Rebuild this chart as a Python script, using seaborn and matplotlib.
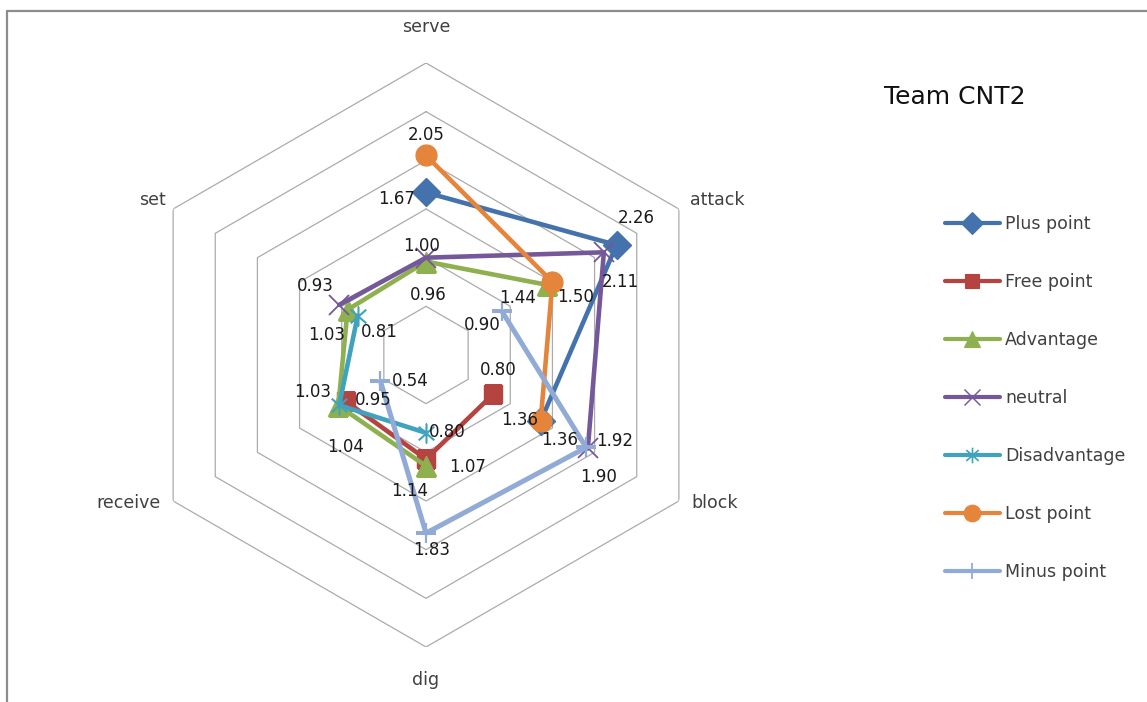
import numpy as np
import matplotlib
matplotlib.use("Agg")
import matplotlib.pyplot as plt
import seaborn as sns
from matplotlib.path import Path
from matplotlib.lines import Line2D

# ---- data -----------------------------------------------------------------
categories = ["serve", "attack", "block", "dig", "receive", "set"]
series_names = ["Plus point", "Free point", "Advantage", "neutral",
                "Disadvantage", "Lost point", "Minus point"]
nan = np.nan
plus_point = [1.67, 2.26, 1.36, nan, nan, nan]
free_point = [nan, nan, 0.80, 1.07, 0.95, nan]
advantage = [0.96, 1.44, nan, 1.14, 1.04, 0.93]
neutral = [1.00, 2.11, 1.92, nan, nan, 1.03]
disadvantage = [nan, nan, nan, 0.80, 1.03, 0.81]
lost_point = [2.05, 1.50, 1.36, nan, nan, nan]
minus_point = [nan, 0.90, 1.90, 1.83, 0.54, nan]
ring_values = [0.5, 1.0, 1.5, 2.0, 2.5, 3.0]
chart_title = "Team CNT2"

series_values = [plus_point, free_point, advantage, neutral,
                 disadvantage, lost_point, minus_point]

# ---- styles ---------------------------------------------------------------
asterisk = Path([(0, 1), (0, -1), (-0.8, 0.7), (0.8, -0.7), (-0.8, -0.7), (0.8, 0.7)],
                [Path.MOVETO, Path.LINETO] * 3)
styles = [
    dict(color="#4472AD", marker="D", ms=14, mew=1.0, lw=3.3),
    dict(color="#B5433F", marker="s", ms=13, mew=1.0, lw=3.3),
    dict(color="#8FB04F", marker="^", ms=14, mew=1.0, lw=3.3),
    dict(color="#74589A", marker="x", ms=14, mew=1.3, lw=3.3),
    dict(color="#3FA2BE", marker=asterisk, ms=14, mew=1.5, lw=3.3),
    dict(color="#E5853C", marker="o", ms=15, mew=1.0, lw=3.3),
    dict(color="#91AAD6", marker="+", ms=15, mew=1.6, lw=3.6),
]

# label offsets in pixels (dx, dy) per series, keyed by category
label_offsets = [
    {"serve": (-29, -7), "attack": (20, 27), "block": (19, -19)},
    {"block": (5, 24), "dig": (42, -8), "receive": (27, 1)},
    {"serve": (2, -33), "attack": (-30, -13), "dig": (-16, -25),
     "receive": (7, -41), "set": (-32, 24)},
    {"serve": (-4, 12), "attack": (16, -30), "block": (27, 7), "set": (-13, -30)},
    {"dig": (21, 1), "receive": (-27, 13), "set": (22, -16)},
    {"serve": (0, 20), "attack": (23, -15), "block": (-21, 1)},
    {"attack": (-20, -14), "block": (12, -30), "dig": (6, -17), "receive": (30, 0)},
]
# category label offsets from the outer ring vertex, pixels
category_offsets = [(0, 36), (38, 9), (36, -2), (0, -33), (-45, -2), (-21, 9)]

sns.set_theme(style="white")
plt.rcParams["font.family"] = ["DejaVu Sans"]

W, H = 1147, 702
fig = plt.figure(figsize=(W / 100, H / 100), dpi=100)
fig.patch.set_facecolor("white")

cx, cy, R = 426, 355, 292
ax = fig.add_axes([(cx - R) / W, (H - cy - R) / H, 2 * R / W, 2 * R / H],
                  projection="polar")
ax.set_theta_zero_location("N")
ax.set_theta_direction(-1)
ax.set_ylim(0, ring_values[-1])
ax.grid(False)
ax.spines["polar"].set_visible(False)
ax.patch.set_alpha(0)

n = len(categories)
angles = np.arange(n) * 2 * np.pi / n

# hexagonal grid rings
ring_theta = np.append(angles, angles[0] + 2 * np.pi)
for rv in ring_values:
    ax.plot(ring_theta, [rv] * (n + 1), color="#ABABAB", lw=0.9, zorder=0)


def runs(values):
    """Contiguous runs of present values, walking the category cycle."""
    present = [not np.isnan(v) for v in values]
    if all(present):
        return [list(range(n + 1))]
    start = present.index(False) + 1
    out, cur = [], []
    for step in range(n):
        i = (start + step) % n
        if present[i]:
            cur.append(start + step)
        elif cur:
            out.append(cur)
            cur = []
    if cur:
        out.append(cur)
    return out


for vals, st in zip(series_values, styles):
    for seg in runs(vals):
        th = [k * 2 * np.pi / n for k in seg]
        rv = [vals[k % n] for k in seg]
        sns.lineplot(x=th, y=rv, ax=ax, sort=False, estimator=None,
                     color=st["color"], lw=st["lw"], marker=st["marker"],
                     markersize=st["ms"], markeredgecolor=st["color"],
                     markerfacecolor=st["color"], markeredgewidth=st["mew"],
                     legend=False, zorder=3)
ax.set_xlabel("")
ax.set_ylabel("")
ax.set_xticks([])
ax.set_yticks([])
ax.set_ylim(0, ring_values[-1])

# value labels
for vals, offs in zip(series_values, label_offsets):
    for cat, (dx, dy) in offs.items():
        i = categories.index(cat)
        v = vals[i]
        ax.annotate(f"{v:.2f}", xy=(angles[i], v), xytext=(dx, dy),
                    textcoords="offset pixels", ha="center", va="center",
                    fontsize=12, color="#1A1A1A", zorder=6)

# category labels
for a, cat, (dx, dy) in zip(angles, categories, category_offsets):
    ax.annotate(cat, xy=(a, ring_values[-1]), xytext=(dx, dy),
                textcoords="offset pixels", ha="center", va="center",
                fontsize=12.5, color="#404040", annotation_clip=False)

# legend
handles = [Line2D([], [], color=st["color"], lw=3.0, marker=st["marker"],
                  ms=st["ms"] * 0.8, mec=st["color"], mfc=st["color"],
                  mew=st["mew"] * 0.8)
           for st in styles]
fig.legend(handles, series_names, loc="upper left",
           bbox_to_anchor=(945 / W, 1 - 215 / H), frameon=False,
           fontsize=12.5, labelcolor="#404040", handlelength=3.15,
           handletextpad=0.3, labelspacing=2.3, borderpad=0,
           borderaxespad=0)

fig.text(884 / W, 1 - 97 / H, chart_title, ha="left", va="center",
         fontsize=18, color="#111111")

# chart frame
fig.add_artist(Line2D([7 / W, 7 / W], [0, 1 - 11 / H], transform=fig.transFigure,
                      color="#8C8C8C", lw=1.6))
fig.add_artist(Line2D([7 / W, 1], [1 - 11 / H, 1 - 11 / H], transform=fig.transFigure,
                      color="#8C8C8C", lw=1.6))

fig.savefig("out.png", dpi=100, facecolor="white")
